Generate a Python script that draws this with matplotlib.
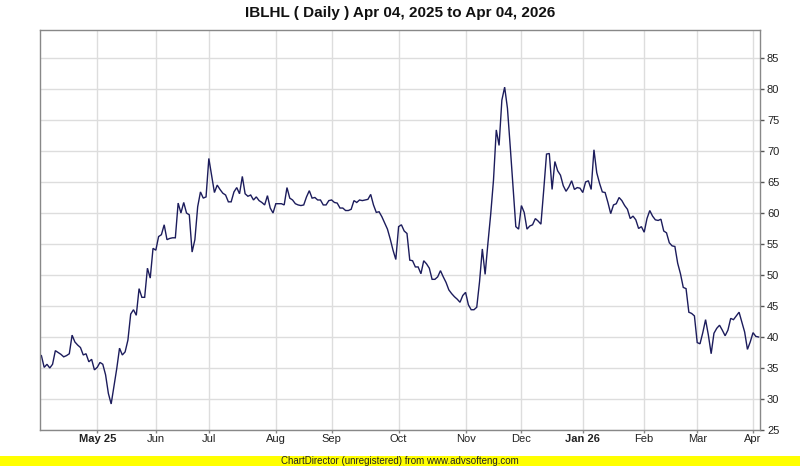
import matplotlib
matplotlib.use("Agg")
import matplotlib.pyplot as plt
from matplotlib.patches import Rectangle

plt.rcParams['font.family'] = ['Liberation Sans', 'DejaVu Sans']

# Daily closing values (trading-day order), Apr 04, 2025 -> Apr 2026
prices = [
    37.0, 35.1, 35.6, 35.0, 35.6, 37.8, 37.5, 37.2, 36.8, 37.0,
    37.3, 40.3, 39.2, 38.7, 38.3, 37.1, 37.3, 36.0, 36.4, 34.7,
    35.1, 35.9, 35.6, 33.9, 30.9, 29.2, 32.0, 34.9, 38.2, 37.1,
    37.6, 39.5, 43.7, 44.4, 43.5, 47.8, 46.4, 46.4, 51.1, 49.5,
    54.3, 54.0, 56.2, 56.5, 58.1, 55.7, 55.9, 56.0, 56.0, 61.6,
    60.0, 61.7, 60.0, 59.7, 53.7, 55.7, 61.0, 63.4, 62.4, 62.6,
    68.8, 66.1, 63.3, 64.5, 63.8, 63.2, 62.9, 61.8, 61.8, 63.4,
    64.1, 63.1, 65.9, 63.1, 62.7, 62.9, 62.1, 62.6, 62.0, 61.7,
    61.3, 62.8, 60.8, 60.0, 61.5, 61.5, 61.5, 61.3, 64.1, 62.4,
    62.1, 61.5, 61.3, 61.2, 61.3, 62.6, 63.6, 62.4, 62.5, 62.1,
    62.1, 61.3, 61.3, 62.0, 62.1, 61.7, 61.6, 60.8, 60.8, 60.4,
    60.4, 60.6, 62.0, 61.7, 62.1, 62.0, 62.1, 62.2, 63.0, 61.3,
    60.1, 60.2, 59.4, 58.4, 57.4, 55.8, 54.0, 52.5, 57.8, 58.1,
    57.1, 56.7, 52.4, 52.3, 51.3, 51.3, 50.2, 52.3, 51.8, 51.1,
    49.3, 49.3, 49.7, 50.7, 49.7, 48.8, 47.6, 47.0, 46.5, 46.1,
    45.6, 46.7, 47.2, 45.2, 44.4, 44.4, 44.8, 48.9, 54.2, 50.1,
    55.1, 59.8, 65.3, 73.4, 70.9, 78.2, 80.3, 76.9, 70.7, 64.2,
    57.8, 57.4, 61.2, 60.1, 57.4, 57.9, 58.1, 59.1, 58.7, 58.2,
    63.7, 69.5, 69.6, 63.8, 68.3, 66.8, 66.1, 64.4, 63.5, 64.2,
    65.2, 63.8, 64.1, 64.0, 63.3, 65.0, 65.2, 63.8, 70.2, 66.5,
    64.8, 63.4, 63.3, 61.7, 59.9, 61.3, 61.5, 62.5, 62.0, 61.2,
    60.6, 59.1, 59.5, 58.9, 57.5, 57.8, 56.9, 59.1, 60.4, 59.5,
    58.9, 58.8, 59.0, 57.1, 56.8, 55.2, 54.7, 54.6, 51.9, 50.2,
    48.0, 47.8, 44.0, 43.8, 43.4, 39.1, 38.9, 40.7, 42.8, 40.3,
    37.3, 40.6, 41.4, 41.9, 41.1, 40.2, 41.1, 43.0, 42.8, 43.4,
    44.0, 42.4, 40.8, 38.0, 39.2, 40.7, 40.1, 40.0,
]

# First trading day of each month (index into prices) and its label
month_labels = ["May 25", "Jun", "Jul", "Aug", "Sep", "Oct", "Nov",
                "Dec", "Jan 26", "Feb", "Mar", "Apr"]
month_index = [20, 41, 60, 84, 104, 128, 152, 172, 194, 216, 235, 255]
year_start_labels = {"May 25", "Jan 26"}

y_ticks = [25, 30, 35, 40, 45, 50, 55, 60, 65, 70, 75, 80, 85]

W, H = 800, 466
fig = plt.figure(figsize=(W / 100, H / 100), dpi=100)
fig.patch.set_facecolor("white")

L, R, T, B = 40, 760, 30, 430
ax = fig.add_axes([L / W, (H - B) / H, (R - L) / W, (B - T) / H])

x = list(range(len(prices)))
ax.plot(x, prices, color="#1c1c5c", lw=1.0, solid_joinstyle="miter")

ax.set_xlim(-0.5, len(prices) - 0.5)
ax.set_ylim(25, 25 + (B - T) / 6.2)

ax.set_yticks(y_ticks)
ax.set_yticklabels([str(v) for v in y_ticks])
ax.yaxis.tick_right()
ax.tick_params(axis="y", direction="out", length=3, width=1, color="#555555",
               labelsize=8, pad=2, labelcolor="#222222")

ax.set_xticks(month_index)
ax.set_xticklabels(month_labels)
for lbl in ax.get_xticklabels():
    if lbl.get_text() in year_start_labels:
        lbl.set_fontweight("bold")
ax.tick_params(axis="x", direction="out", length=2, width=1, color="#888888",
               labelsize=8, pad=1, labelcolor="#222222")

ax.grid(True, color="#dddddd", lw=1.0)
ax.set_axisbelow(True)
for s in ax.spines.values():
    s.set_color("#888888")
    s.set_linewidth(1.0)

fig.text(0.5, 1 - 12.5 / H, "IBLHL ( Daily ) Apr 04, 2025 to Apr 04, 2026",
         ha="center", va="center", fontsize=11, fontweight="bold", color="#111111")

fig.patches.append(Rectangle((0, 0), 1, 10 / H, transform=fig.transFigure,
                             facecolor="#ffff00", edgecolor="none", zorder=0))
fig.text(0.5, 5 / H, "ChartDirector (unregistered) from www.advsofteng.com",
         ha="center", va="center", fontsize=7, color="#222222")

fig.savefig("out.png", dpi=100)
